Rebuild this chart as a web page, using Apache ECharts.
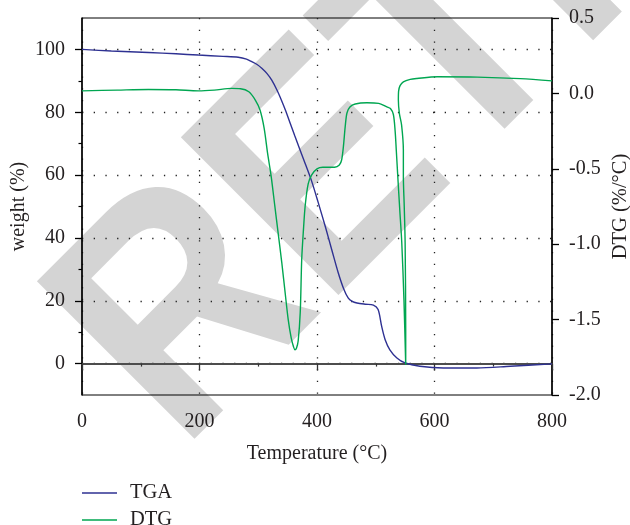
<!DOCTYPE html>
<html>
<head>
<meta charset="utf-8">
<script src="https://cdn.jsdelivr.net/npm/echarts@6/dist/echarts.min.js"></script>
<style>
  html, body { margin: 0; padding: 0; background: #fff; }
  #chart { width: 630px; height: 525px; }
</style>
</head>
<body>
<div id="chart"></div>
<script>
// TGA curve: temperature (°C) and weight (%)
const tgaTemp = [0, 50, 113, 160, 198, 240, 266, 280, 289, 298, 306, 315, 323, 332, 340, 347, 362, 380, 391, 402, 414, 425, 436, 445, 453, 460, 468, 482, 496, 504, 510, 516, 524, 536, 550, 575, 615, 672, 729, 800]
const tgaWeight = [100, 99.5, 99.0, 98.6, 98.2, 97.8, 97.5, 96.9, 96.1, 95.2, 94.0, 92.3, 90.2, 87.0, 83.6, 80.3, 72.6, 63.6, 58.0, 51.3, 43.7, 36.3, 29.0, 24.0, 20.9, 19.8, 19.3, 18.9, 18.6, 17.2, 11.9, 7.6, 4.4, 1.8, 0.2, -0.85, -1.4, -1.4, -0.85, -0.1]

// DTG curve: temperature (°C) and %/°C (the sharp peak runs back in temperature)
const dtgTemp = [0, 60, 113, 160, 198, 225, 255, 270, 284, 295, 303, 310, 316, 322, 328, 334, 340, 346, 351, 356, 360, 362.5, 365, 368, 371.5, 374, 377, 380, 385, 391, 400, 410, 420, 430, 438, 442, 445, 448, 451, 456, 465, 485, 505, 519, 525, 530, 533, 535, 537.5, 541, 544.3, 548, 551, 551, 550, 548.5, 547, 547, 544, 540.2, 538.5, 538.9, 541.4, 547, 558.6, 570, 605, 673, 746, 800]
const dtgValue = [0.017, 0.022, 0.026, 0.024, 0.017, 0.022, 0.033, 0.031, 0.011, -0.044, -0.11, -0.23, -0.4, -0.55, -0.74, -0.93, -1.12, -1.33, -1.5, -1.62, -1.68, -1.70, -1.69, -1.64, -1.45, -1.1, -0.9, -0.74, -0.6, -0.54, -0.5, -0.49, -0.49, -0.49, -0.475, -0.44, -0.35, -0.22, -0.13, -0.09, -0.07, -0.062, -0.066, -0.09, -0.10, -0.14, -0.25, -0.38, -0.55, -0.78, -0.99, -1.37, -1.80, -1.57, -0.99, -0.75, -0.55, -0.375, -0.21, -0.132, -0.044, 0.015, 0.052, 0.077, 0.093, 0.099, 0.11, 0.108, 0.098, 0.083]

const weightTicks = [0, 20, 40, 60, 80, 100]
const weightMinorTicks = [10, 30, 50, 70, 90]

const serif = '"Liberation Serif", "DejaVu Serif", serif'
const ink = '#231f20'
const dotted = { color: '#222', width: 1.3, type: [1.3, 10.4] }
const legendText = { fontFamily: serif, fontSize: 20.5, color: ink, padding: [0, 0, 0, 8] }

const chart = echarts.init(document.getElementById('chart'))

chart.setOption({
  animation: false,
  backgroundColor: '#fff',
  graphic: [{
    type: 'text',
    x: 118,
    y: 389,
    rotation: Math.PI / 4,
    scaleX: 0.87,
    z: -10,
    silent: true,
    style: {
      text: 'RETRACTED',
      fill: '#d4d4d4',
      font: 'bold 324px "Liberation Sans"',
      textAlign: 'left',
      textVerticalAlign: 'middle',
      align: 'left',
      verticalAlign: 'middle'
    }
  }],
  grid: {
    left: 82, right: 78, top: 18, height: 377,
    containLabel: false, outerBoundsMode: 'none',
    show: true, borderColor: '#000', borderWidth: 1
  },
  legend: [{
    data: ['TGA'], left: 82, top: 482.5, padding: 0,
    icon: 'rect', itemWidth: 35, itemHeight: 1.5, textStyle: legendText
  }, {
    data: ['DTG'], left: 82, top: 509.5, padding: 0,
    icon: 'rect', itemWidth: 35, itemHeight: 1.5, textStyle: legendText
  }],
  xAxis: {
    type: 'value', min: 0, max: 800, interval: 200,
    name: 'Temperature (°C)', nameLocation: 'middle', nameGap: 49,
    nameTextStyle: { fontFamily: serif, fontSize: 20, color: ink },
    axisLine: { lineStyle: { color: '#4d4d4d', width: 2 } },
    axisTick: { show: true, inside: false, length: 7, lineStyle: { color: '#333', width: 1.3 } },
    minorTick: { show: true, splitNumber: 2, length: 3, lineStyle: { color: '#333', width: 1.2 } },
    axisLabel: { margin: 17, fontFamily: serif, fontSize: 20, color: ink, showMinLabel: true, showMaxLabel: true },
    splitLine: { show: true, lineStyle: dotted }
  },
  yAxis: [{
    type: 'value', position: 'left', min: -10, max: 110, interval: 10,
    name: 'weight (%)', nameLocation: 'middle', nameGap: 53, nameRotate: 90, nameMoveOverlap: false,
    nameTextStyle: { fontFamily: serif, fontSize: 20, color: ink },
    axisLine: { show: true, lineStyle: { color: '#000', width: 1.5 } },
    axisTick: { show: true, length: 7, customValues: weightTicks, lineStyle: { color: '#000', width: 1.3 } },
    axisLabel: { customValues: weightTicks, margin: 17, fontFamily: serif, fontSize: 20, color: ink },
    splitLine: { show: true, lineStyle: dotted }
  }, {
    type: 'value', position: 'right', min: -2, max: 0.5, interval: 0.5,
    name: 'DTG (%/°C)', nameLocation: 'middle', nameGap: 58, nameRotate: 90, nameMoveOverlap: false,
    nameTextStyle: { fontFamily: serif, fontSize: 20.5, color: ink },
    axisLine: { show: true, lineStyle: { color: '#000', width: 1.5 } },
    axisTick: { show: true, length: 7, lineStyle: { color: '#000', width: 1.3 } },
    axisLabel: {
      margin: 17, fontFamily: serif, fontSize: 20, color: ink, showMinLabel: true, showMaxLabel: true,
      formatter: v => (Math.abs(v) < 1e-9 ? '0.0' : v.toFixed(1))
    },
    splitLine: { show: false }
  }, {
    // minor ticks of the weight axis
    type: 'value', position: 'left', min: -10, max: 110, interval: 10,
    axisLine: { show: false },
    axisTick: { show: true, length: 3.5, customValues: weightMinorTicks, lineStyle: { color: '#000', width: 1.2 } },
    axisLabel: { show: false },
    splitLine: { show: false }
  }],
  series: [{
    name: 'TGA',
    type: 'line',
    yAxisIndex: 0,
    data: tgaTemp.map((t, i) => [t, tgaWeight[i]]),
    symbol: 'none',
    smooth: 0.3,
    lineStyle: { color: '#2e3192', width: 1.4 },
    itemStyle: { color: '#2e3192' }
  }, {
    name: 'DTG',
    type: 'line',
    yAxisIndex: 1,
    data: dtgTemp.map((t, i) => [t, dtgValue[i]]),
    symbol: 'none',
    smooth: 0.3,
    lineStyle: { color: '#00a651', width: 1.4 },
    itemStyle: { color: '#00a651' }
  }]
})
</script>
</body>
</html>
